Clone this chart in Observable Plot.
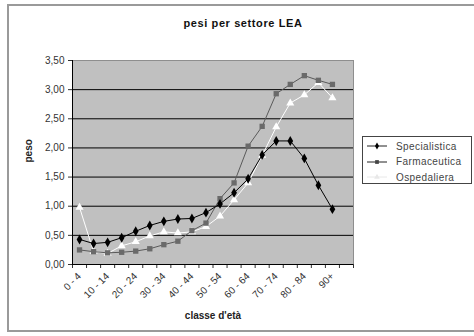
<!DOCTYPE html>
<html>
<head>
<meta charset="utf-8">
<script src="https://cdn.jsdelivr.net/npm/d3@7"></script>
<script src="https://cdn.jsdelivr.net/npm/@observablehq/plot@0.6"></script>
<style>
  body { margin: 0; background: #fff; }
  #wrap { position: relative; width: 474px; height: 336px; overflow: hidden; font-family: "Liberation Sans", Arial, sans-serif; }
  #border { position: absolute; left: 7px; top: 4px; width: 480px; height: 328px; border: 2px solid #9a9a9a; box-sizing: border-box; }
  #title { position: absolute; top: 17px; left: 243px; transform: translateX(-50%); font-weight: bold; font-size: 11px; letter-spacing: 0.6px; color: #111; white-space: nowrap; }
  #chart { position: absolute; left: 0; top: 0; }
  #legend { position: absolute; left: 362px; top: 136px; width: 110px; height: 48px; border: 1px solid #444; background: #fff; box-sizing: border-box; }
  #legend .row { position: absolute; left: 4px; height: 14px; display: flex; align-items: center; font-size: 10px; color: #444; letter-spacing: 0.4px; white-space: nowrap; }
  #legend svg { margin-right: 9px; }
</style>
</head>
<body>
<div id="wrap">
  <div id="border"></div>
  <div id="chart"></div>
  <div id="title">pesi per settore LEA</div>
  <div id="legend"></div>
</div>
<script>
// Age classes (x categories)
const ageClasses = ["0 - 4", "5 - 9", "10 - 14", "15 - 19", "20 - 24", "25 - 29", "30 - 34", "35 - 39",
  "40 - 44", "45 - 49", "50 - 54", "55 - 59", "60 - 64", "65 - 69", "70 - 74", "75 - 79", "80 - 84", "85 - 89", "90+"];

// Weights per LEA sector
const specialistica = [0.43, 0.36, 0.38, 0.46, 0.57, 0.67, 0.74, 0.78, 0.79, 0.89, 1.04, 1.23, 1.47, 1.88, 2.12, 2.12, 1.82, 1.36, 0.95];
const farmaceutica  = [0.25, 0.22, 0.20, 0.21, 0.23, 0.27, 0.34, 0.40, 0.58, 0.71, 1.13, 1.40, 2.03, 2.37, 2.93, 3.09, 3.24, 3.16, 3.09];
const ospedaliera   = [0.98, 0.22, 0.19, 0.32, 0.39, 0.49, 0.56, 0.54, 0.56, 0.65, 0.83, 1.11, 1.40, 1.87, 2.36, 2.77, 2.91, 3.12, 2.86];

const seriesNames = ["Specialistica", "Farmaceutica", "Ospedaliera"];
const yTicks = [0, 0.5, 1, 1.5, 2, 2.5, 3, 3.5];

const seriesStyle = {
  Specialistica: {stroke: "#000000", fill: "#000000", symbol: "diamond", r: 3},
  Farmaceutica:  {stroke: "#5a5a5a", fill: "#6a6a6a", symbol: "square", r: 3},
  Ospedaliera:   {stroke: "#ffffff", fill: "#ffffff", symbol: "triangle", r: 3}
};

const seriesData = [specialistica, farmaceutica, ospedaliera].map((vals, k) =>
  vals.map((v, i) => ({serie: seriesNames[k], cls: ageClasses[i], pos: i + 0.5, value: v})));

// One slot per category plus a trailing empty slot on the right
const nSlots = ageClasses.length + 1;
const labelPos = ageClasses.map((c, i) => i + 0.5).filter((p, i) => i % 2 === 0);

const fmtIt = v => v.toFixed(2).replace(".", ",");

const lineMarks = [];
for (const data of seriesData.slice().reverse()) {
  const s = seriesStyle[data[0].serie];
  lineMarks.push(Plot.line(data, {x: "pos", y: "value", stroke: s.stroke, strokeWidth: 1}));
  lineMarks.push(Plot.dot(data, {x: "pos", y: "value", fill: s.fill, stroke: "none", symbol: s.symbol, r: s.r}));
}

const chart = Plot.plot({
  width: 474,
  height: 336,
  marginLeft: 72,
  marginRight: 121,
  marginTop: 60,
  marginBottom: 72,
  style: {fontFamily: "'Liberation Sans', Arial, sans-serif", fontSize: "10px", background: "transparent", color: "#333"},
  x: {type: "linear", domain: [0, nSlots]},
  y: {domain: [0, 3.5]},
  marks: [
    Plot.frame({fill: "#c0c0c0", stroke: "#8e8e8e"}),
    Plot.ruleY(yTicks.filter(v => v > 0 && v < 3.5), {stroke: "#000", strokeWidth: 1}),
    Plot.axisY(yTicks, {tickSize: 4, tickPadding: 4, tickFormat: fmtIt, label: null, fontSize: 10, letterSpacing: 0.8}),
    Plot.axisX(d3.range(0, nSlots + 1), {tickSize: 4, tickFormat: () => "", label: null}),
    Plot.axisX(labelPos, {tickSize: 0, tickPadding: 10, tickRotate: -45, tickFormat: p => ageClasses[Math.round(p - 0.5)], label: null, letterSpacing: 0.6}),
    Plot.text(["peso"], {frameAnchor: "left", dx: -44, rotate: -90, fontWeight: "bold", fill: "#222", fontSize: 10}),
    Plot.text(["classe d'età"], {frameAnchor: "bottom", dy: 54, fontWeight: "bold", fill: "#222", fontSize: 10, letterSpacing: 0.4}),
    ...lineMarks,
    Plot.ruleX([0], {stroke: "#000"}),
    Plot.ruleY([0], {stroke: "#000"})
  ]
});
document.getElementById("chart").appendChild(chart);

// Legend
const legend = document.getElementById("legend");
seriesNames.forEach((name, k) => {
  const row = document.createElement("div");
  row.className = "row";
  row.style.top = (2 + k * 15.5) + "px";
  const svg = d3.create("svg").attr("width", 20).attr("height", 10);
  svg.append("line").attr("x1", 0).attr("x2", 20).attr("y1", 5).attr("y2", 5)
    .attr("stroke", name === "Ospedaliera" ? "#e8e8e8" : "#222").attr("stroke-width", 1);
  svg.append("path").attr("transform", "translate(10,5)")
    .attr("d", d3.symbol(name === "Specialistica" ? d3.symbolDiamond : name === "Farmaceutica" ? d3.symbolSquare : d3.symbolTriangle, 14)())
    .attr("fill", name === "Ospedaliera" ? "#e8e8e8" : name === "Farmaceutica" ? "#444" : "#000");
  row.appendChild(svg.node());
  const span = document.createElement("span");
  span.textContent = name;
  row.appendChild(span);
  legend.appendChild(row);
});
</script>
</body>
</html>
